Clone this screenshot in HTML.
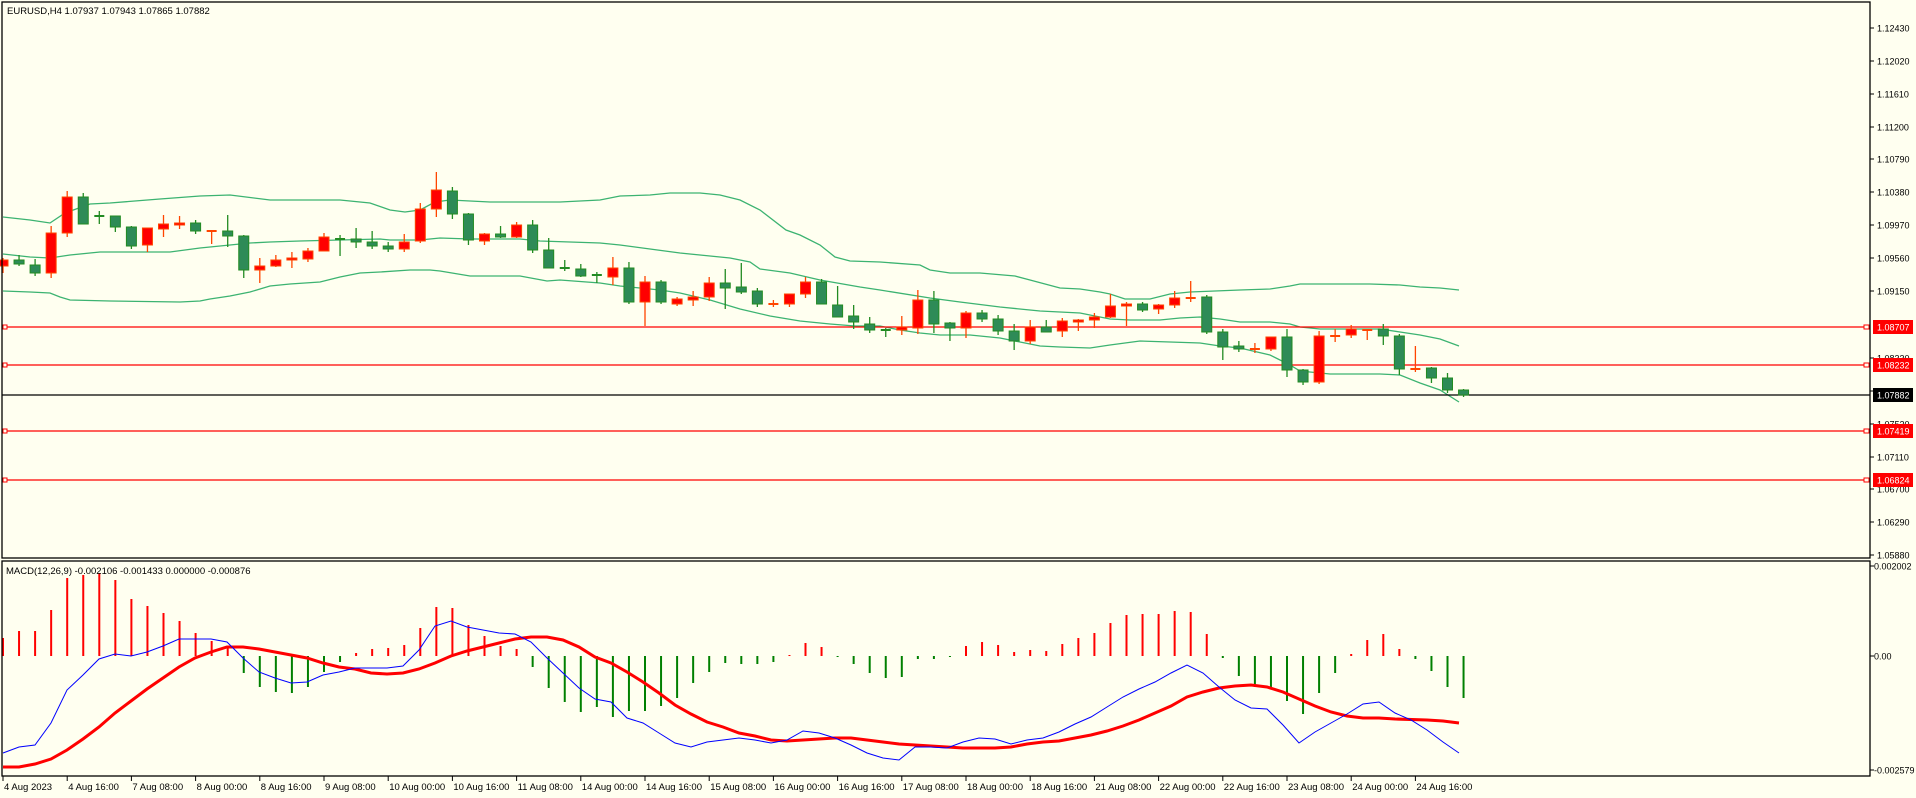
<!DOCTYPE html>
<html><head><meta charset="utf-8"><style>
html,body{margin:0;padding:0;background:#fffff0;}
svg{display:block;font-family:"Liberation Sans",sans-serif;}
</style></head><body>
<svg id="s" width="1916" height="798" viewBox="0 0 1916 798" xmlns="http://www.w3.org/2000/svg">
<rect width="1916" height="798" fill="#fffff0"/>
<g id="bands" fill="none" stroke="#3cb371" stroke-width="1.3"></g>
<g id="hl"></g>
<g id="candles"></g>
<g id="macd"></g>
<g id="axes" font-size="9" fill="#000"></g>
<rect x="2" y="2" width="1868" height="556" fill="none" stroke="#000" stroke-width="1.3"/>
<rect x="2" y="561" width="1868" height="215" fill="none" stroke="#000" stroke-width="1.3"/>
<text x="7" y="14" font-size="9.5">EURUSD,H4  1.07937 1.07943 1.07865 1.07882</text>
<text x="6" y="574" font-size="9.5">MACD(12,26,9) -0.002106 -0.001433 0.000000 -0.000876</text>
</svg>
<script>
const NS="http://www.w3.org/2000/svg";
function el(p,t,a,txt){const e=document.createElementNS(NS,t);for(const k in a)e.setAttribute(k,a[k]);if(txt!==undefined)e.textContent=txt;p.appendChild(e);return e;}
const X=i=>3+i*16.05;
const C=[[260,266,258,273,'r'],[260,264,255,266,'g'],[265,273,259,276,'g'],[233,273,226,278,'r'],[197,233,191,237,'r'],[197,224,193,224,'g'],[216,216,211,224,'g'],[216,227,216,232,'g'],[227,246,226,249,'g'],[228,245,228,252,'r'],
[224,229,215,237,'r'],[223,225,216,229,'r'],[223,231,220,234,'g'],[231,231,230,244,'r'],[231,236,215,247,'g'],[236,270,235,278,'g'],[266,270,258,283,'r'],[260,266,255,267,'r'],[258,260,252,268,'r'],[251,259,248,262,'r'],
[237,251,233,251,'r'],[239,239,235,256,'g'],[239,242,228,248,'g'],[242,246,231,249,'g'],[246,249,242,252,'g'],[242,249,234,252,'r'],[209,241,203,243,'r'],[190,209,172,217,'r'],[191,214,187,219,'g'],[214,240,213,245,'g'],
[234,241,233,245,'r'],[234,237,226,238,'g'],[225,237,222,238,'r'],[225,250,220,253,'g'],[250,268,238,268,'g'],[268,269,260,271,'g'],[269,276,264,277,'g'],[275,276,272,283,'g'],[268,277,257,285,'r'],[268,302,262,304,'g'],
[282,302,276,326,'r'],[282,302,280,304,'g'],[299,304,297,306,'r'],[297,300,291,306,'r'],[283,297,277,301,'r'],[283,288,269,309,'g'],[287,292,263,294,'g'],[291,304,288,307,'g'],[304,304,300,307,'r'],[294,304,294,307,'r'],
[282,294,277,298,'r'],[282,304,279,304,'g'],[305,317,286,317,'g'],[316,322,305,329,'g'],[324,330,317,333,'g'],[330,330,328,337,'g'],[327,330,316,335,'r'],[300,328,290,334,'r'],[300,324,291,333,'g'],[323,328,322,341,'g'],
[313,328,311,338,'r'],[313,319,310,322,'g'],[319,331,315,335,'g'],[331,341,324,350,'g'],[327,341,320,344,'r'],[327,332,320,332,'g'],[321,331,318,337,'r'],[320,322,319,331,'r'],[317,320,313,328,'r'],[306,317,294,318,'r'],
[304,306,302,326,'r'],[304,310,302,312,'g'],[305,309,304,314,'r'],[298,305,291,308,'r'],[298,298,281,302,'r'],[297,332,295,334,'g'],[332,347,329,360,'g'],[346,349,341,352,'g'],[349,349,343,353,'r'],[337,349,337,351,'r'],
[337,370,329,377,'g'],[370,382,369,385,'g'],[336,382,331,384,'r'],[336,336,329,342,'r'],[329,335,325,338,'r'],[330,330,330,340,'r'],[329,336,324,345,'g'],[336,369,334,375,'g'],[369,369,346,372,'r'],[368,378,367,383,'g'],
[378,390,373,393,'g'],[390,395,389,397,'g']];
const cg=document.getElementById('candles');
C.forEach((c,i)=>{const x=X(i);const up=c[4]==='r';const fill=up?'#ff0000':'#2e8b57';const st=up?'#ff4500':'#228b22';
el(cg,'line',{x1:x,x2:x,y1:c[2],y2:c[3],stroke:st,'stroke-width':1.3});
if(c[1]-c[0]<1.5){el(cg,'rect',{x:x-5,y:c[0]-1,width:10,height:2,fill:st});}
else el(cg,'rect',{x:x-5,y:c[0],width:10,height:c[1]-c[0],fill:fill,stroke:st,'stroke-width':1});});
const up=[[3,217],[30,220],[50,223],[65,213],[90,204],[110,203],[160,199],[200,196],[230,195],[270,200],[340,200],[370,203],[390,210],[405,212],[420,210],[435,202],[450,200],[490,202],[560,202],[600,200],[620,196],[650,195],[670,193],[700,193],[720,195],[740,200],[760,210],[786,230],[800,235],[820,245],[835,257],[850,261],[880,262],[920,265],[930,270],[950,273],[980,273],[1015,276],[1030,280],[1060,288],[1080,289],[1100,292],[1110,294],[1125,299],[1150,299],[1170,294],[1190,292],[1240,290],[1270,289],[1290,286],[1300,284],[1370,284],[1400,285],[1420,287],[1440,288],[1459,290]];
const mid=[[3,254],[30,257],[50,258],[70,255],[90,253],[100,252],[170,252],[200,248],[230,245],[250,243],[270,242],[300,241],[340,240],[380,239],[390,240],[420,240],[440,238],[470,239],[520,239],[540,241],[600,243],[620,245],[650,249],[680,253],[700,255],[730,258],[750,262],[760,269],[790,273],[820,280],[860,287],[880,290],[930,298],[960,302],[1000,307],[1040,311],[1080,313],[1110,319],[1130,320],[1160,320],[1180,318],[1200,317],[1220,319],[1240,322],[1270,322],[1290,324],[1300,327],[1320,329],[1380,329],[1400,332],[1420,335],[1440,339],[1459,346]];
const lo=[[3,291],[30,292],[50,293],[60,297],[70,300],[110,301],[180,302],[200,301],[210,299],[230,296],[250,292],[270,286],[290,284],[320,282],[340,277],[360,273],[380,272],[410,270],[430,270],[440,271],[470,276],[520,276],[547,281],[560,280],[600,283],[620,286],[660,290],[680,293],[710,300],[740,309],[770,316],[800,321],[830,324],[855,326],[880,326],[890,328],[900,330],[920,333],[940,335],[970,335],[1000,338],[1020,342],[1040,346],[1060,347],[1090,348],[1110,345],[1140,341],[1170,342],[1200,343],[1220,346],[1240,348],[1270,355],[1290,365],[1300,371],[1330,374],[1380,374],[1400,375],[1420,383],[1440,390],[1459,402]];
const bg=document.getElementById('bands');
[up,mid,lo].forEach(p=>el(bg,'polyline',{points:p.map(q=>q.join(',')).join(' ')}));
const hl=document.getElementById('hl');const ax=document.getElementById('axes');
[[327,'1.08707'],[365,'1.08232'],[431,'1.07419'],[480,'1.06824']].forEach(h=>{el(hl,'line',{x1:2,x2:1870,y1:h[0],y2:h[0],stroke:'#ff0000','stroke-width':1.2});
el(hl,'rect',{x:3,y:h[0]-2,width:4,height:4,fill:'#fffff0',stroke:'#ff0000','stroke-width':1});
el(hl,'rect',{x:1864,y:h[0]-2,width:5,height:4,fill:'#fffff0',stroke:'#ff0000','stroke-width':1});});
el(hl,'line',{x1:2,x2:1870,y1:395,y2:395,stroke:'#000','stroke-width':1.2});
[[28,'1.12430'],[61,'1.12020'],[94,'1.11610'],[127,'1.11200'],[159,'1.10790'],[192,'1.10380'],[225,'1.09970'],[258,'1.09560'],[291,'1.09150'],[358,'1.08330'],[391,'1.07920'],[424,'1.07520'],[457,'1.07110'],[489,'1.06700'],[522,'1.06290'],[555,'1.05880']].forEach(t=>{
el(ax,'line',{x1:1870,x2:1874,y1:t[0],y2:t[0],stroke:'#000'});el(ax,'text',{x:1877,y:t[0]+3.5},t[1]);});
[[327,'1.08707','#ff0000'],[365,'1.08232','#ff0000'],[395,'1.07882','#000'],[431,'1.07419','#ff0000'],[480,'1.06824','#ff0000']].forEach(t=>{
el(ax,'rect',{x:1873,y:t[0]-7,width:40,height:14,fill:t[2]});el(ax,'text',{x:1877,y:t[0]+3.5,fill:'#fff'},t[1]);});
[[566,'0.002002'],[656,'0.00'],[770,'-0.002579']].forEach(t=>{el(ax,'line',{x1:1870,x2:1874,y1:t[0],y2:t[0],stroke:'#000'});el(ax,'text',{x:1874,y:t[0]+3.5},t[1]);});
const TL=['4 Aug 2023','4 Aug 16:00','7 Aug 08:00','8 Aug 00:00','8 Aug 16:00','9 Aug 08:00','10 Aug 00:00','10 Aug 16:00','11 Aug 08:00','14 Aug 00:00','14 Aug 16:00','15 Aug 08:00','16 Aug 00:00','16 Aug 16:00','17 Aug 08:00','18 Aug 00:00','18 Aug 16:00','21 Aug 08:00','22 Aug 00:00','22 Aug 16:00','23 Aug 08:00','24 Aug 00:00','24 Aug 16:00'];
TL.forEach((t,k)=>{const x=X(k*4);el(ax,'line',{x1:x,x2:x,y1:776,y2:781,stroke:'#000'});el(ax,'text',{x:x+1,y:790,'font-size':9.5},t);});
const H=[638,631,631,610,578,575,573,580,599,606,613,621,633,641,647,673,687,692,693,687,672,662,653,649,648,645,628,607,608,625,636,646,649,667,688,702,712,707,717,711,711,706,698,683,672,663,664,664,662,655,643,647,657,664,673,678,677,659,659,657,646,642,645,652,650,651,644,638,633,623,615,614,614,611,612,634,658,676,687,687,701,714,693,673,654,640,634,649,659,671,687,698];
const mg=document.getElementById('macd');
H.forEach((y,i)=>{const x=X(i);const red=y<656;el(mg,'line',{x1:x,x2:x,y1:656,y2:y,stroke:red?'#ff0000':'#008000','stroke-width':2});});
const blue=[[3,753],[19,747],[35,745],[51,723],[67,690],[83,675],[99,659],[115,654],[131,656],[147,652],[163,646],[179,639],[211,639],[227,642],[243,658],[259,672],[275,678],[291,683],[307,682],[323,675],[339,672],[355,668],[387,668],[403,666],[419,650],[435,626],[451,621],[467,627],[483,630],[499,633],[515,634],[531,642],[547,658],[563,673],[579,688],[595,699],[611,702],[627,718],[643,723],[659,733],[675,743],[691,747],[707,742],[723,740],[739,738],[755,740],[771,743],[787,740],[803,731],[819,733],[835,738],[851,745],[867,753],[883,758],[899,760],[915,747],[931,747],[947,748],[963,742],[979,738],[995,739],[1011,744],[1027,740],[1043,738],[1059,732],[1075,724],[1091,717],[1107,707],[1123,697],[1139,689],[1155,682],[1171,673],[1187,665],[1203,673],[1219,687],[1235,700],[1251,708],[1267,709],[1283,725],[1299,743],[1315,732],[1331,723],[1347,714],[1363,704],[1379,702],[1395,713],[1411,720],[1427,730],[1443,742],[1459,753]];
const sig=[[3,767],[19,767],[35,764],[51,759],[67,750],[83,739],[99,727],[115,713],[131,701],[147,689],[163,678],[179,667],[195,658],[211,652],[227,647],[243,647],[259,649],[275,652],[291,655],[307,658],[323,663],[339,667],[355,669],[371,673],[387,674],[403,673],[419,669],[435,663],[451,656],[467,651],[483,647],[499,643],[515,639],[531,637],[547,637],[563,640],[579,647],[595,657],[611,663],[627,672],[643,682],[659,693],[675,705],[691,714],[707,722],[723,727],[739,733],[755,736],[771,740],[787,741],[803,740],[819,739],[835,738],[851,738],[867,740],[883,742],[899,744],[915,745],[931,746],[947,747],[963,748],[995,748],[1011,747],[1027,744],[1043,742],[1059,741],[1075,738],[1091,735],[1107,731],[1123,726],[1139,720],[1155,713],[1171,706],[1187,697],[1203,692],[1219,688],[1235,686],[1251,685],[1267,687],[1283,692],[1299,699],[1315,706],[1331,712],[1347,716],[1363,718],[1379,718],[1395,719],[1427,720],[1443,721],[1459,723]];
el(mg,'polyline',{points:sig.map(q=>q.join(',')).join(' '),fill:'none',stroke:'#ff0000','stroke-width':3});
el(mg,'polyline',{points:blue.map(q=>q.join(',')).join(' '),fill:'none',stroke:'#0000ff','stroke-width':1});
</script>
</body></html>
